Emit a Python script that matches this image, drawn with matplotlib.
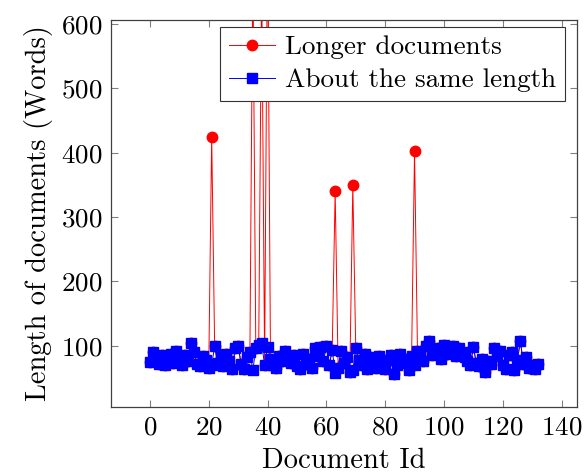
import numpy as np
import matplotlib.pyplot as plt

plt.rcParams['font.family'] = 'cmr10'
plt.rcParams['axes.formatter.use_mathtext'] = True

doc_ids = np.arange(133)

# words per document, documents of about the same length
same_length = [
    75, 90, 80, 72, 86, 70, 78, 88, 74, 92,
    82, 70, 86, 76, 104, 90, 72, 68, 85, 78,
    66, 70, 100, 74, 82, 68, 88, 76, 64, 96,
    100, 72, 64, 82, 90, 62, 96, 102, 104, 70,
    98, 80, 70, 66, 84, 76, 92, 80, 74, 86,
    68, 64, 88, 72, 80, 66, 96, 84, 98, 76,
    100, 70, 94, 58, 66, 92, 74, 82, 60, 62,
    96, 78, 70, 88, 64, 82, 76, 66, 84, 72,
    64, 78, 86, 56, 70, 88, 80, 74, 62, 84,
    70, 92, 88, 76, 100, 108, 86, 90, 96, 80,
    102, 88, 94, 100, 84, 96, 90, 82, 76, 70,
    98, 74, 68, 80, 60, 76, 72, 96, 84, 92,
    70, 64, 86, 90, 62, 78, 108, 72, 82, 66,
    70, 64, 72,
]

# the longer documents stand out of the same sequence
long_ids = [21, 35, 38, 40, 63, 69, 90]
long_words = [425, 700, 680, 760, 340, 350, 403]

longer = list(same_length)
for i, w in zip(long_ids, long_words):
    longer[i] = w

fig = plt.figure(figsize=(5.85, 4.75), dpi=100)
ax = fig.add_axes([0.19, 0.143, 0.796, 0.815])

ax.plot(doc_ids, longer, color='red', lw=0.7, marker='o', ms=7.5,
        label='Longer documents')
ax.plot(doc_ids, same_length, color='blue', lw=0.7, marker='s', ms=7.5,
        label='About the same length')

ax.set_xlim(-13.2, 145.2)
ax.set_ylim(5, 606)
ax.set_xticks(np.arange(0, 141, 20))
ax.set_yticks(np.arange(100, 601, 100))
ax.tick_params(direction='in', length=5, width=0.8, color='0.5',
               top=True, right=True, labelsize=19.5, pad=6)
for s in ax.spines.values():
    s.set_color('0.25')
    s.set_linewidth(0.9)

ax.set_xlabel('Document Id', fontsize=20.5, labelpad=6)
ax.set_ylabel('Length of documents (Words)', fontsize=20.5, labelpad=6)

leg = ax.legend(loc='upper right', bbox_to_anchor=(0.974, 0.982),
                fontsize=19.5, fancybox=False, framealpha=1, edgecolor='0.2',
                handlelength=1.7, borderaxespad=0, borderpad=0.3,
                labelspacing=0.35, handletextpad=0.4)
leg.get_frame().set_linewidth(0.8)

fig.savefig('out.png', dpi=100)
